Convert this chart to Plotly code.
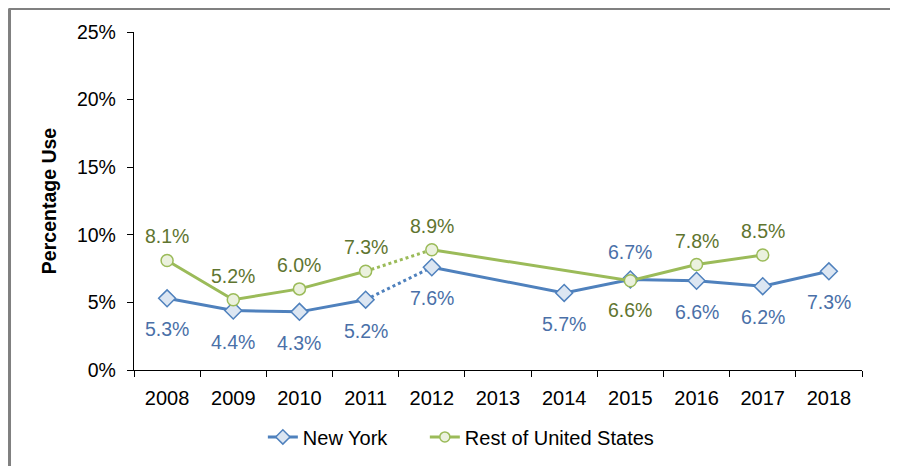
import plotly.graph_objects as go

years = ["2008", "2009", "2010", "2011", "2012", "2013", "2014", "2015", "2016", "2017", "2018"]
new_york = [5.3, 4.4, 4.3, 5.2, 7.6, None, 5.7, 6.7, 6.6, 6.2, 7.3]
rest_us = [8.1, 5.2, 6.0, 7.3, 8.9, None, None, 6.6, 7.8, 8.5, None]
y_ticks = [0, 5, 10, 15, 20, 25]
y_tick_labels = ["0%", "5%", "10%", "15%", "20%", "25%"]
break_year = "2011"  # segment from 2011 to 2012 drawn dotted

NY_LINE = "#4F81BD"
NY_FILL = "#DCE6F2"
NY_TEXT = "#4A70A8"
RU_LINE = "#9BBB59"
RU_FILL = "#EBF1DE"
RU_TEXT = "#5F7530"
FONT = "Liberation Sans, Arial, sans-serif"
FS = 19.5
FS_X = 20
FS_LEG = 20

# labels: New York below except where above; Rest above except where below
ny_above = {"2015"}
ru_below = {"2015"}

fig = go.Figure()
bi = years.index(break_year)


def add_series(name, vals, line_c, fill_c, symbol, msize, legend_id):
    part1 = [v if i <= bi else None for i, v in enumerate(vals)]
    dotted = [v if i in (bi, bi + 1) else None for i, v in enumerate(vals)]
    part2 = [v if i >= bi + 1 else None for i, v in enumerate(vals)]
    fig.add_trace(go.Scatter(x=years, y=dotted, mode="lines", showlegend=False,
                             line=dict(color=line_c, width=3, dash="dot"),
                             connectgaps=False, hoverinfo="skip"))
    fig.add_trace(go.Scatter(x=years, y=part1, mode="lines", showlegend=False,
                             line=dict(color=line_c, width=3),
                             connectgaps=False, hoverinfo="skip"))
    fig.add_trace(go.Scatter(x=years, y=part2, mode="lines", showlegend=False,
                             line=dict(color=line_c, width=3),
                             connectgaps=True, hoverinfo="skip"))
    fig.add_trace(go.Scatter(x=years, y=vals, mode="markers", name=name, showlegend=False,
                             marker=dict(symbol=symbol, size=msize, color=fill_c,
                                         line=dict(color=line_c, width=1.5))))
    # legend proxy
    fig.add_trace(go.Scatter(x=[None], y=[None], mode="lines+markers", name=name,
                             legend=legend_id,
                             line=dict(color=line_c, width=3),
                             marker=dict(symbol=symbol, size=msize - 2, color=fill_c,
                                         line=dict(color=line_c, width=1.5))))


add_series("New York", new_york, NY_LINE, NY_FILL, "diamond", 13, "legend")
add_series("Rest of United States", rest_us, RU_LINE, RU_FILL, "circle", 12, "legend2")

for i, v in enumerate(new_york):
    if v is None:
        continue
    up = years[i] in ny_above
    fig.add_annotation(x=i, y=v, xref="x", yref="y", text=f"{v:.1f}%", showarrow=False,
                       yshift=27 if up else -31,
                       font=dict(family=FONT, size=FS, color=NY_TEXT))
for i, v in enumerate(rest_us):
    if v is None:
        continue
    down = years[i] in ru_below
    fig.add_annotation(x=i, y=v, xref="x", yref="y", text=f"{v:.1f}%", showarrow=False,
                       yshift=-29 if down else 24,
                       font=dict(family=FONT, size=FS, color=RU_TEXT))

# outer frame (top and left edges visible)
fig.add_shape(type="line", xref="paper", yref="paper", x0=-0.172, x1=1.2,
              y0=1.0695, y1=1.0695, line=dict(color="#808080", width=3))
fig.add_shape(type="line", xref="paper", yref="paper", x0=-0.171, x1=-0.171,
              y0=1.0695, y1=-0.4, line=dict(color="#808080", width=3))

legend_common = dict(orientation="h", xanchor="left", y=-0.198, yanchor="middle",
                     font=dict(family=FONT, size=FS_LEG, color="#000000"),
                     itemwidth=30, bgcolor="rgba(0,0,0,0)")

fig.update_layout(
    width=898, height=466,
    margin=dict(l=126, r=44, t=24, b=104),
    paper_bgcolor="white", plot_bgcolor="white",
    font=dict(family=FONT, size=FS, color="#000000"),
    showlegend=True,
    legend=dict(x=0.177, **legend_common),
    legend2=dict(x=0.3995, **legend_common),
    xaxis=dict(type="category", categoryorder="array", categoryarray=years,
               range=[-0.5, len(years) - 0.5],
               showline=True, linecolor="#000000", linewidth=1.3,
               ticks="outside", ticklen=6, tickwidth=1.3, tickcolor="#000000",
               tickson="boundaries", showgrid=False, zeroline=False,
               ticklabelstandoff=10,
               tickfont=dict(family=FONT, size=FS_X, color="#000000")),
    yaxis=dict(range=[0, 25], tickvals=y_ticks, ticktext=y_tick_labels,
               showline=True, linecolor="#000000", linewidth=1.3,
               ticks="outside", ticklen=6, tickwidth=1.3, tickcolor="#000000",
               showgrid=False, zeroline=False, ticklabelstandoff=7,
               title=dict(text="<b>Percentage Use</b>", standoff=15,
                          font=dict(family=FONT, size=FS, color="#000000")),
               tickfont=dict(family=FONT, size=FS, color="#000000")),
)

fig.write_html("out.html")
